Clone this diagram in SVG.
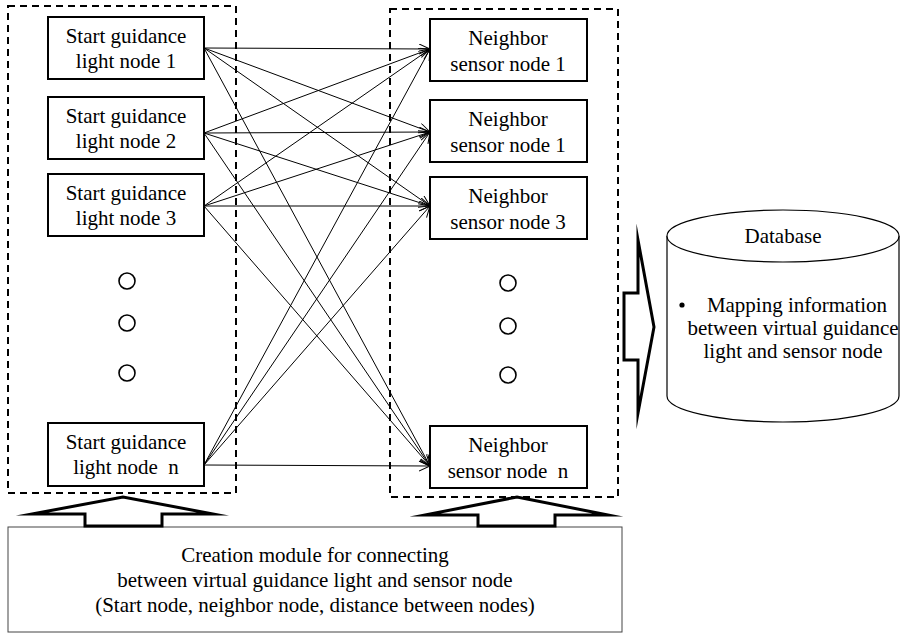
<svg xmlns="http://www.w3.org/2000/svg" width="903" height="633" viewBox="0 0 903 633">
  <style>
    text { font-family: "Liberation Serif", "Times New Roman", serif; font-size: 21px; fill: #000; text-anchor: middle; }
    .node { fill: #fff; stroke: #000; stroke-width: 2; }
    .group { fill: none; stroke: #000; stroke-width: 2; stroke-dasharray: 7 5; }
    .dot { fill: #fff; stroke: #000; stroke-width: 1.6; }
    .link { fill: none; stroke: #000; stroke-width: 1; marker-end: url(#open); }
    .block { fill: #fff; stroke: #000; stroke-width: 3; stroke-linejoin: miter; stroke-miterlimit: 20; }
    .module { fill: #fff; stroke: #444; stroke-width: 1; }
  </style>
  <defs>
    <marker id="open" markerUnits="userSpaceOnUse" markerWidth="14" markerHeight="12" refX="11" refY="5" orient="auto">
      <path d="M0,0 L11,5 L0,10" fill="none" stroke="#000" stroke-width="1"/>
    </marker>
  </defs>

  <rect width="903" height="633" fill="#fff"/>

  <!-- dashed group frames -->
  <rect class="group" x="8" y="6" width="228" height="487"/>
  <rect class="group" x="390" y="9" width="228" height="488"/>

  <!-- connectors: every start node to every neighbor node -->
  <g id="connectors">
    <line class="link" x1="204" y1="48" x2="430" y2="49"/>
    <line class="link" x1="204" y1="48" x2="430" y2="132"/>
    <line class="link" x1="204" y1="48" x2="430" y2="206"/>
    <line class="link" x1="204" y1="48" x2="430" y2="466"/>
    <line class="link" x1="204" y1="133" x2="430" y2="49"/>
    <line class="link" x1="204" y1="133" x2="430" y2="132"/>
    <line class="link" x1="204" y1="133" x2="430" y2="206"/>
    <line class="link" x1="204" y1="133" x2="430" y2="466"/>
    <line class="link" x1="204" y1="206" x2="430" y2="49"/>
    <line class="link" x1="204" y1="206" x2="430" y2="132"/>
    <line class="link" x1="204" y1="206" x2="430" y2="206"/>
    <line class="link" x1="204" y1="206" x2="430" y2="466"/>
    <line class="link" x1="204" y1="465" x2="430" y2="49"/>
    <line class="link" x1="204" y1="465" x2="430" y2="132"/>
    <line class="link" x1="204" y1="465" x2="430" y2="206"/>
    <line class="link" x1="204" y1="465" x2="430" y2="466"/>
  </g>

  <!-- start guidance light nodes -->
  <g id="start1">
    <rect class="node" x="48" y="17" width="156" height="62"/>
    <text x="126" y="43">Start guidance</text>
    <text x="126" y="68">light node 1</text>
  </g>
  <g id="start2">
    <rect class="node" x="48" y="97" width="156" height="62"/>
    <text x="126" y="123">Start guidance</text>
    <text x="126" y="148">light node 2</text>
  </g>
  <g id="start3">
    <rect class="node" x="48" y="174" width="156" height="62"/>
    <text x="126" y="200">Start guidance</text>
    <text x="126" y="225">light node 3</text>
  </g>
  <g id="start-ellipsis">
    <circle class="dot" cx="127" cy="281" r="8"/>
    <circle class="dot" cx="127" cy="323" r="8"/>
    <circle class="dot" cx="127" cy="373" r="8"/>
  </g>
  <g id="startN">
    <rect class="node" x="48" y="423" width="156" height="63"/>
    <text x="126" y="449">Start guidance</text>
    <text x="126" y="474">light node&#160; n</text>
  </g>

  <!-- neighbor sensor nodes -->
  <g id="neighbor1">
    <rect class="node" x="430" y="19" width="157" height="62"/>
    <text x="508" y="45">Neighbor</text>
    <text x="508" y="71">sensor node 1</text>
  </g>
  <g id="neighbor2">
    <rect class="node" x="430" y="100" width="157" height="62"/>
    <text x="508" y="126">Neighbor</text>
    <text x="508" y="152">sensor node 1</text>
  </g>
  <g id="neighbor3">
    <rect class="node" x="430" y="177" width="157" height="62"/>
    <text x="508" y="203">Neighbor</text>
    <text x="508" y="229">sensor node 3</text>
  </g>
  <g id="neighbor-ellipsis">
    <circle class="dot" cx="508" cy="283" r="8"/>
    <circle class="dot" cx="508" cy="326" r="8"/>
    <circle class="dot" cx="508" cy="375" r="8"/>
  </g>
  <g id="neighborN">
    <rect class="node" x="430" y="426" width="157" height="62"/>
    <text x="508" y="452">Neighbor</text>
    <text x="508" y="478">sensor node&#160; n</text>
  </g>

  <!-- block arrow into the database -->
  <g id="to-database">
    <polygon class="block" points="624,293 638,293 638,240 654,327 638,413 638,360 624,360"/>
  </g>

  <!-- database cylinder -->
  <g id="database">
    <path d="M667,236 L667,396 A116,26 0 0 0 899,396 L899,236" fill="#fff" stroke="#000" stroke-width="1.2"/>
    <ellipse cx="783" cy="236" rx="116" ry="26" fill="#fff" stroke="#000" stroke-width="1.2"/>
    <text x="783" y="243">Database</text>
    <circle cx="682" cy="305" r="2.6" fill="#000"/>
    <text x="797" y="312">Mapping information</text>
    <text x="793" y="335">between virtual guidance</text>
    <text x="793" y="358">light and sensor node</text>
  </g>

  <!-- creation module with its two up arrows -->
  <g id="creation-module">
    <rect class="module" x="8" y="527" width="614" height="105"/>
    <text x="315" y="562">Creation module for connecting</text>
    <text x="315" y="587">between virtual guidance light and sensor node</text>
    <text x="315" y="612">(Start node, neighbor node, distance between nodes)</text>
  </g>
  <g id="to-start-nodes">
    <polygon class="block" points="85,526 85,514 32,514 123,497 213,514 162,514 162,526"/>
  </g>
  <g id="to-neighbor-nodes">
    <polygon class="block" points="478,526 478,515 425,515 517,497 608,515 555,515 555,526"/>
  </g>
</svg>
